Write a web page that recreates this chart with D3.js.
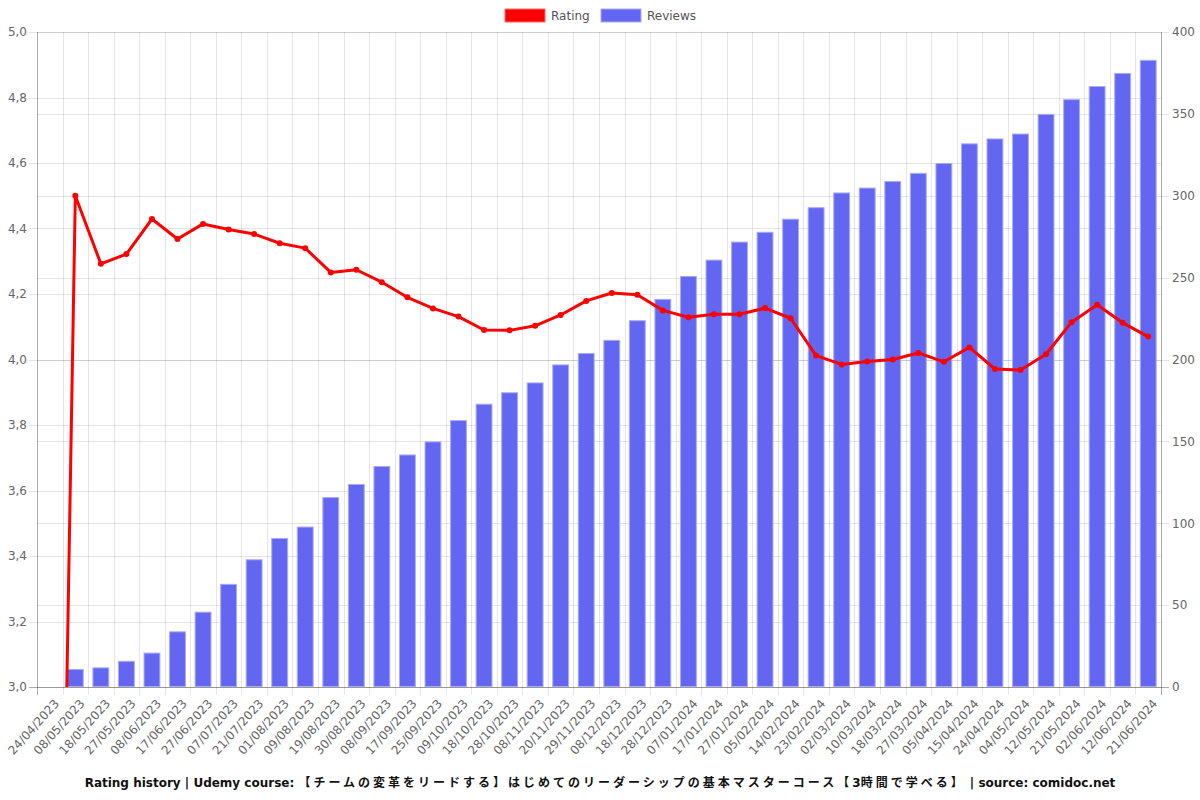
<!DOCTYPE html>
<html>
<head>
<meta charset="utf-8">
<script src="https://cdn.jsdelivr.net/npm/d3@7"></script>
<style>
html,body{margin:0;padding:0;background:#fff;}
svg{display:block;font-family:"DejaVu Sans",sans-serif;}
</style>
</head>
<body>
<svg id="chart" width="1200" height="800"></svg>
<script>
const dates = ["24/04/2023","08/05/2023","18/05/2023","27/05/2023","08/06/2023","17/06/2023","27/06/2023","07/07/2023","21/07/2023","01/08/2023","09/08/2023","19/08/2023","30/08/2023","08/09/2023","17/09/2023","25/09/2023","09/10/2023","18/10/2023","28/10/2023","08/11/2023","20/11/2023","29/11/2023","08/12/2023","18/12/2023","28/12/2023","07/01/2024","17/01/2024","27/01/2024","05/02/2024","14/02/2024","23/02/2024","02/03/2024","10/03/2024","18/03/2024","27/03/2024","05/04/2024","15/04/2024","24/04/2024","04/05/2024","12/05/2024","21/05/2024","02/06/2024","12/06/2024","21/06/2024"];
const rating = [0,4.50,4.292,4.322,4.429,4.368,4.414,4.397,4.383,4.355,4.340,4.266,4.274,4.236,4.190,4.156,4.131,4.090,4.089,4.103,4.136,4.179,4.203,4.198,4.150,4.129,4.138,4.138,4.157,4.126,4.012,3.985,3.994,4.000,4.020,3.993,4.037,3.971,3.968,4.016,4.114,4.167,4.112,4.070];
const reviews = [0,11,12,16,21,34,46,63,78,91,98,116,124,135,142,150,163,173,180,186,197,204,212,224,237,251,261,272,278,286,293,302,305,309,314,320,332,335,338,350,359,367,375,383];
const ratingTicks = [3.0,3.2,3.4,3.6,3.8,4.0,4.2,4.4,4.6,4.8,5.0];
const reviewTicks = [0,50,100,150,200,250,300,350,400];
const titleParts = ["Rating history | Udemy course: ", "【チームの変革をリードする】はじめてのリーダーシップの基本マスターコース【", "3", "時間で学べる】", " | source: comidoc.net"];

const svg = d3.select("#chart");
const L = 37, R = 1161, T = 32, B = 687;
const x = d3.scaleBand().domain(dates).range([L, R]).padding(0);
const yL = d3.scaleLinear().domain([3, 5]).range([B, T]);
const yR = d3.scaleLinear().domain([0, 400]).range([B, T]);
const gridColor = "rgba(0,0,0,0.1)";
const axisColor = "rgba(0,0,0,0.25)";
const fmt = d => d3.format(".1f")(d).replace(".", ",");

// grid
const grid = svg.append("g");
grid.selectAll("line.hl").data(ratingTicks).join("line")
  .attr("x1", L - 8).attr("x2", R).attr("y1", d => Math.round(yL(d)) + 0.5).attr("y2", d => Math.round(yL(d)) + 0.5)
  .attr("stroke", gridColor);
grid.selectAll("line.hr").data(reviewTicks).join("line")
  .attr("x1", L).attr("x2", R + 8).attr("y1", d => Math.round(yR(d)) + 0.5).attr("y2", d => Math.round(yR(d)) + 0.5)
  .attr("stroke", gridColor);
const bounds = dates.map(d => x(d)).concat([R]);
grid.selectAll("line.v").data(bounds).join("line")
  .attr("x1", d => Math.round(d) + 0.5).attr("x2", d => Math.round(d) + 0.5)
  .attr("y1", T).attr("y2", B + 8).attr("stroke", gridColor);

// bars
const bw = x.bandwidth() * 0.66;
svg.append("g").selectAll("rect").data(dates.map((d, i) => ({d, v: reviews[i]})).filter(o => o.v > 0)).join("rect")
  .attr("x", o => x(o.d) + (x.bandwidth() - bw) / 2 + 0.5)
  .attr("y", o => yR(o.v) + 0.5)
  .attr("width", bw - 1)
  .attr("height", o => yR(0) - yR(o.v) - 1)
  .attr("fill", "#6366f1")
  .attr("stroke", "#a9abf7")
  .attr("stroke-width", 1);

// axes lines
svg.append("line").attr("x1", L + 0.5).attr("x2", L + 0.5).attr("y1", T).attr("y2", B + 8).attr("stroke", axisColor);
svg.append("line").attr("x1", R + 0.5).attr("x2", R + 0.5).attr("y1", T).attr("y2", B + 8).attr("stroke", axisColor);
svg.append("line").attr("x1", L - 8).attr("x2", R + 8).attr("y1", B + 0.5).attr("y2", B + 0.5).attr("stroke", axisColor);

// left axis labels
const axL = svg.append("g").attr("transform", `translate(${L},0)`)
  .call(d3.axisLeft(yL).tickValues(ratingTicks).tickFormat(fmt).tickSize(0).tickPadding(10));
axL.select(".domain").remove();
axL.selectAll("text").attr("fill", "#666").attr("font-size", 12).attr("font-family", "DejaVu Sans");
const axR = svg.append("g").attr("transform", `translate(${R},0)`)
  .call(d3.axisRight(yR).tickValues(reviewTicks).tickSize(0).tickPadding(11));
axR.select(".domain").remove();
axR.selectAll("text").attr("fill", "#666").attr("font-size", 12).attr("font-family", "DejaVu Sans");

// x axis labels
const axB = svg.append("g").attr("transform", `translate(0,${B})`)
  .call(d3.axisBottom(x).tickSize(0).tickPadding(0));
axB.select(".domain").remove();
axB.selectAll("text")
  .attr("fill", "#666").attr("font-size", 12).attr("font-family", "DejaVu Sans")
  .attr("text-anchor", "end").attr("dy", 0)
  .attr("transform", "translate(10,17) rotate(-48)");

// line
svg.append("clipPath").attr("id", "clip").append("rect").attr("x", L).attr("y", T - 10).attr("width", R - L).attr("height", B - T + 10);
const pts = dates.map((d, i) => [x(d) + x.bandwidth() / 2, yL(rating[i])]);
const lg = svg.append("g").attr("clip-path", "url(#clip)");
lg.append("path").attr("d", d3.line()(pts)).attr("fill", "none").attr("stroke", "#ff0000").attr("stroke-width", 3).attr("stroke-linejoin", "round");
lg.selectAll("circle").data(pts).join("circle").attr("cx", p => p[0]).attr("cy", p => p[1]).attr("r", 3).attr("fill", "#ff0000");

// legend
const leg = svg.append("g");
leg.append("rect").attr("x", 505).attr("y", 9).attr("width", 40).attr("height", 13).attr("fill", "#ff0000").attr("stroke", "#ff6b6b").attr("stroke-width", 1);
leg.append("text").attr("x", 551).attr("y", 20).attr("font-size", 12).attr("fill", "#555").text("Rating");
leg.append("rect").attr("x", 601).attr("y", 9).attr("width", 40).attr("height", 13).attr("fill", "#6366f1").attr("stroke", "#a9abf7").attr("stroke-width", 1);
leg.append("text").attr("x", 647).attr("y", 20).attr("font-size", 12).attr("fill", "#555").text("Reviews");

// title
const t = svg.append("text").attr("x", 600).attr("y", 787).attr("text-anchor", "middle")
  .attr("font-size", 12).attr("font-weight", "bold").attr("fill", "#111");
titleParts.forEach((p, i) => {
  const ts = t.append("tspan").text(p);
  if (i === 1 || i === 3) ts.attr("font-family", "Noto Sans CJK JP").attr("letter-spacing", 3);
});
</script>
</body>
</html>
